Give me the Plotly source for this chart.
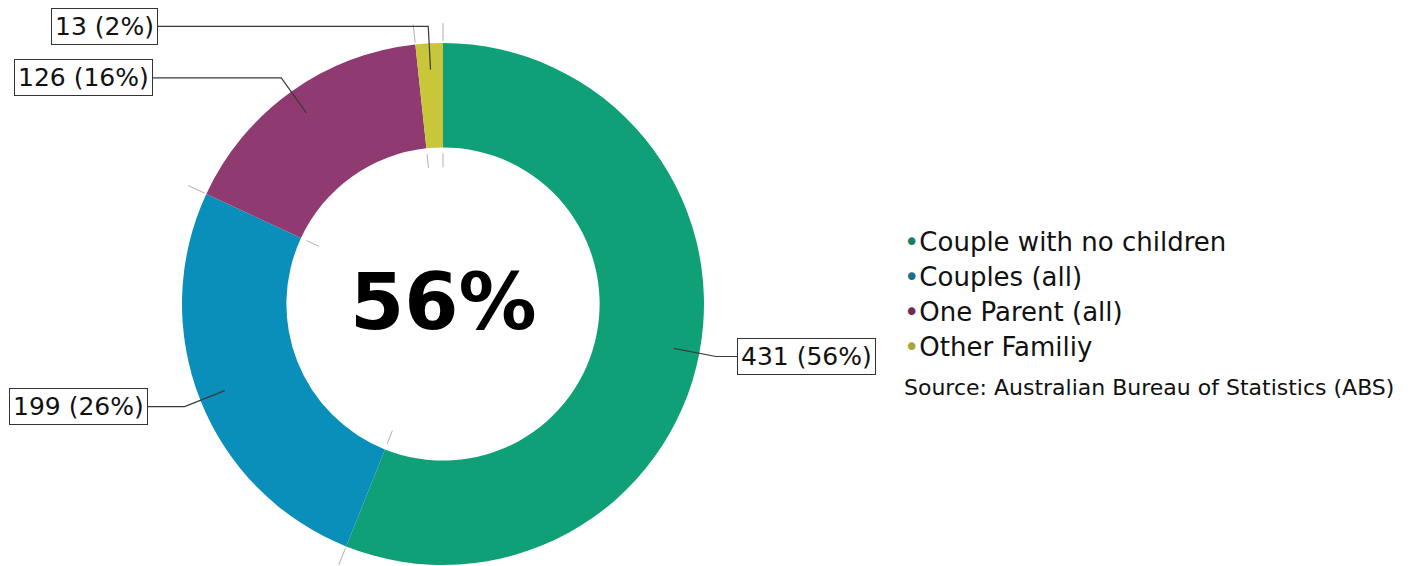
import math

import plotly.graph_objects as go

# data
categories = ["Couple with no children", "Couples (all)", "One Parent (all)", "Other Familiy"]
counts = [431, 199, 126, 13]
source_note = "Source: Australian Bureau of Statistics (ABS)"

# style
slice_colors = ["#10a078", "#0a8eba", "#8f3a70", "#c9c63a"]
dot_colors = ["#1b7e62", "#1a6f8c", "#6f2b57", "#a6a735"]
label_edge_px = [737, 148, 153, 158]  # box edge nearest the leader line

W, H = 1411, 566
OFF = 8  # page body margin
CX, CY, R = 443, 304, 261
HOLE = 0.6


def to_paper(x, y):
    return (x - OFF) / W, 1 - (y - OFF) / H


def polar(theta, r):
    # theta in degrees, clockwise from 12 o'clock
    t = math.radians(theta)
    return CX + r * math.sin(t), CY - r * math.cos(t)


total = sum(counts)
pcts = [round(100 * c / total) for c in counts]

fig = go.Figure()
fig.add_trace(
    go.Pie(
        labels=categories,
        values=counts,
        hole=HOLE,
        sort=False,
        direction="clockwise",
        rotation=0,
        marker=dict(colors=slice_colors, line=dict(width=0)),
        textinfo="none",
        hoverinfo="label+value+percent",
        showlegend=False,
        domain=dict(
            x=[(CX - R - OFF) / W, (CX + R - OFF) / W],
            y=[1 - (CY + R - OFF) / H, 1 - (CY - R - OFF) / H],
        ),
    )
)

shapes = []
annotations = []

# grey ticks on the slice boundaries
cum = 0
for c in [0] + counts[:-1]:
    cum += c
    ang = 360 * cum / total
    for r0, r1 in [(R + 2, R + 20), (HOLE * R - 6, HOLE * R - 20)]:
        x0, y0 = to_paper(*polar(ang, r0))
        x1, y1 = to_paper(*polar(ang, r1))
        shapes.append(dict(type="line", xref="paper", yref="paper",
                           x0=x0, y0=y0, x1=x1, y1=y1,
                           line=dict(color="#b0b0b0", width=1)))

# leader lines and value boxes
cum = 0
for i, c in enumerate(counts):
    mid = 360 * (cum + c / 2) / total
    cum += c
    ax, ay = polar(mid, 0.9 * R)
    ex, ey = polar(mid, 1.065 * R)
    bx = label_edge_px[i]
    p = [to_paper(ax, ay), to_paper(ex, ey), to_paper(bx, ey)]
    path = "M {} {} L {} {} L {} {}".format(p[0][0], p[0][1], p[1][0], p[1][1], p[2][0], p[2][1])
    shapes.append(dict(type="path", xref="paper", yref="paper", path=path,
                       line=dict(color="#3a3a3a", width=1.2)))
    right_side = math.sin(math.radians(mid)) > 0
    annotations.append(dict(
        x=p[2][0], y=p[2][1], xref="paper", yref="paper",
        text=f"{c} ({pcts[i]}%)", showarrow=False,
        xanchor="left" if right_side else "right", yanchor="middle",
        font=dict(family="DejaVu Sans", size=25, color="#111111"),
        bgcolor="white", bordercolor="#333333", borderwidth=1, borderpad=3,
    ))

# centre figure
cx, cy = to_paper(CX, CY - 2)
annotations.append(dict(
    x=cx, y=cy, xref="paper", yref="paper", showarrow=False,
    text=f"<b>{pcts[0]}%</b>", xanchor="center", yanchor="middle",
    font=dict(family="DejaVu Sans", size=78, color="black"),
))

# legend
for i, name in enumerate(categories):
    lx, ly = to_paper(902, 242 + 35 * i)
    annotations.append(dict(
        x=lx, y=ly, xref="paper", yref="paper", showarrow=False,
        text=f"<span style='color:{dot_colors[i]}'>\u2022</span>{name}",
        xanchor="left", yanchor="middle",
        font=dict(family="DejaVu Sans", size=26, color="#111111"),
    ))

sx, sy = to_paper(902, 387)
annotations.append(dict(
    x=sx, y=sy, xref="paper", yref="paper", showarrow=False,
    text=source_note, xanchor="left", yanchor="middle",
    font=dict(family="DejaVu Sans", size=22, color="#111111"),
))

fig.update_layout(
    width=W,
    height=H,
    margin=dict(l=0, r=0, t=0, b=0),
    paper_bgcolor="white",
    plot_bgcolor="white",
    shapes=shapes,
    annotations=annotations,
)

fig.write_html("out.html")
